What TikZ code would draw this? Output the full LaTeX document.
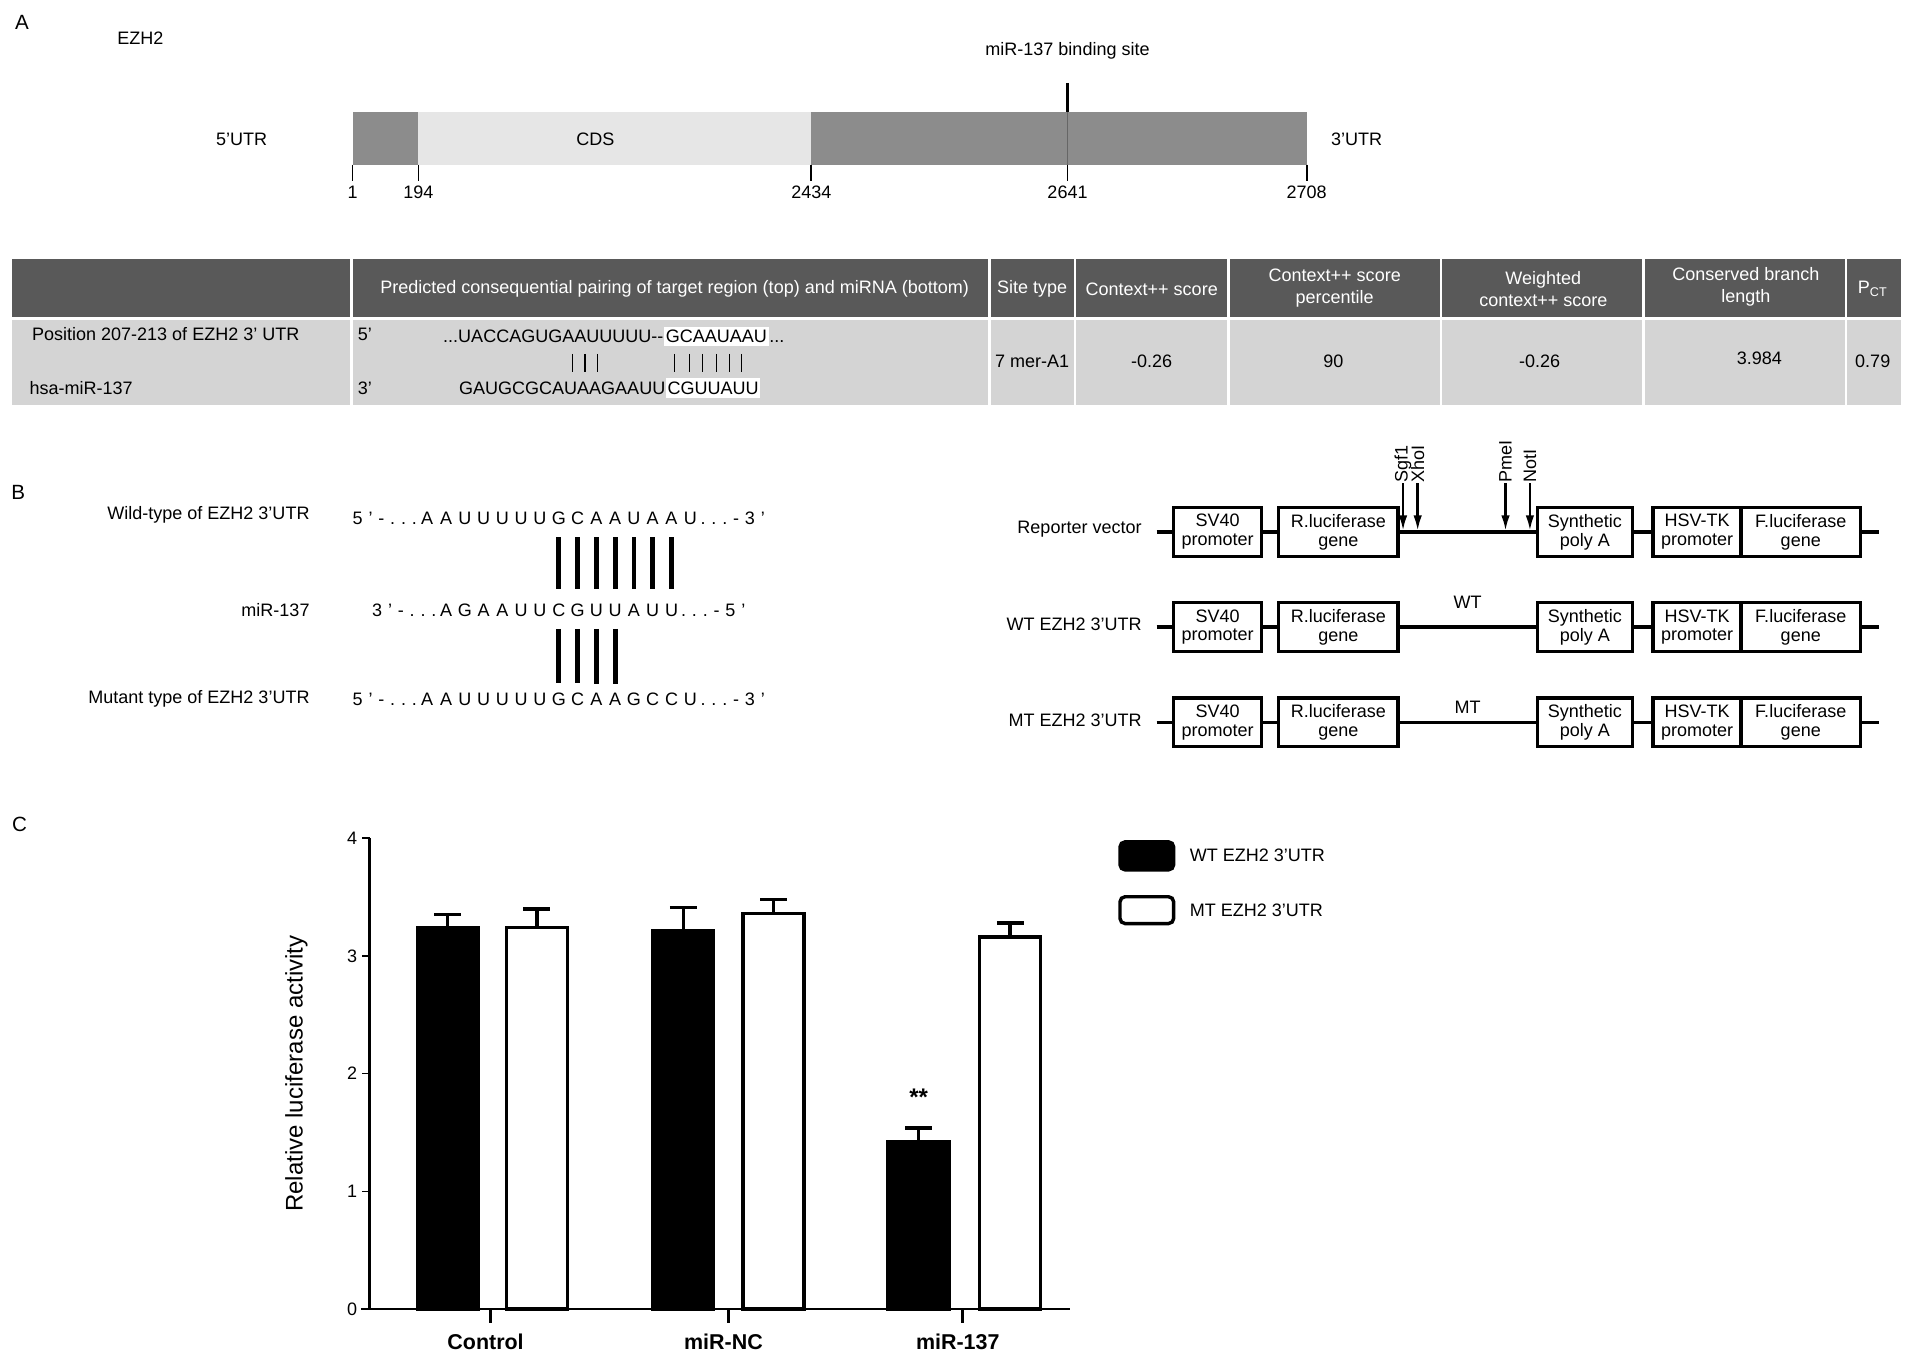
\documentclass[tikz,border=0pt]{standalone}
\usepackage{fontspec}
\setmainfont{Liberation Sans}
\usetikzlibrary{positioning,arrows.meta}
\definecolor{utrgray}{HTML}{8C8C8C}
\definecolor{cdsgray}{HTML}{E6E6E6}
\definecolor{headgray}{HTML}{595959}
\definecolor{rowgray}{HTML}{D4D4D4}
\newcommand\gp{\hspace{3.4pt}}
\tikzset{
  txt/.style={font=\fontsize{10.5}{12.5}\selectfont, inner sep=0pt},
  panel/.style={font=\fontsize{12}{14}\selectfont, inner sep=0pt},
  hcell/.style={txt, text=white, align=center},
  part/.style={draw, line width=2pt, fill=white, minimum height=1cm, inner sep=0pt,
    align=center, font=\fontsize{10.5}{11}\selectfont},
  pair/.style={line width=2.8pt},
  axisline/.style={line width=1.6pt},
  barbox/.style={line width=2pt},
  catlab/.style={font=\bfseries\fontsize{12.5}{14}\selectfont, inner sep=0pt},
}
\begin{document}
\begin{tikzpicture}[x=0.025cm, y=-0.025cm]
\useasboundingbox (0,0) rectangle (1568,1118);
% ---------- A: gene map
\node[panel] (pA) at (18,18) {A};
\node[txt] (gene) at (115,31) {EZH2};
\fill[utrgray] (289,92) rectangle (343,135);
\fill[cdsgray] (343,92) rectangle (665,135);
\fill[utrgray] (665,92) rectangle (1071,135);
\draw[gray!120, line width=1pt] (875,92) -- (875,135);
\draw[line width=1.5pt] (875,68) -- (875,92);
\node[txt] (site) at (875,42) {miR-137 binding site};
\node[txt] (cds) at (488,114) {CDS};
\node[txt] (utr5) at (198,114) {5'UTR};
\node[txt] (utr3) at (1112,114) {3'UTR};
\foreach \x/\l in {289/1,343/194,665/2434,875/2641,1071/2708} {
  \draw[line width=1pt] (\x,135) -- (\x,148);
  \node[txt] (tick\l) at (\x,158) {\l};
}
% ---------- A: table
\foreach \a/\b in {10/287,289/810,812/880,882/1006,1008/1180,1182/1346,1348/1512,1514/1558} {
  \fill[headgray] (\a,212) rectangle (\b,260);
  \fill[rowgray] (\a,262) rectangle (\b,332);
}
\node[hcell] (h2) at (553,237) {Predicted consequential pairing of target region (top) and miRNA (bottom)};
\node[hcell] (h3) at (846,237) {Site type};
\node[hcell] (h4) at (944,237) {Context++ score};
\node[hcell] (h5) at (1094,236) {Context++ score\\percentile};
\node[hcell] (h6) at (1265,237) {Weighted\\context++ score};
\node[hcell] (h7) at (1431,235) {Conserved branch\\length};
\node[hcell] (h8) at (1535,237) {P\textsubscript{CT}};
\node[txt, anchor=base west] (pos) at (26,279) {Position 207-213 of EZH2 3' UTR};
\node[txt, anchor=base west] (hsa) at (24,323) {hsa-miR-137};
\node[txt, anchor=base west] (p5) at (293,279) {5'};
\node[txt, anchor=base west] (p3) at (293,323) {3'};
\node[txt, anchor=base west] (tseq1) at (363,281) {...UACCAGUGAAUUUUU-{}-};
\node[txt, anchor=base west, fill=white, inner xsep=1pt, inner ysep=2pt] (tseq2) at (tseq1.base east) {GCAAUAAU};
\node[txt, anchor=base west] (tseq3) at (tseq2.base east) {...};
\node[txt, anchor=base west] (mseq1) at (376,323) {GAUGCGCAUAAGAAUU};
\node[txt, anchor=base west, fill=white, inner xsep=1pt, inner ysep=2pt] (mseq2) at (mseq1.base east) {CGUUAUU};
\foreach \x in {469,479.5,490,553,565,576,587,598,608}
  \draw[line width=0.7pt] (\x,290) -- (\x,305);
\node[txt] (d3) at (846,296) {7 mer-A1};
\node[txt] (d4) at (944,296) {-0.26};
\node[txt] (d5) at (1093,296) {90};
\node[txt] (d6) at (1262,296) {-0.26};
\node[txt] (d7) at (1442,294) {3.984};
\node[txt] (d8) at (1535,296) {0.79};
% ---------- B: pairing
\node[panel] (pB) at (15,404) {B};
\node[txt, anchor=east] (wlab) at (254,422) {Wild-type of EZH2 3'UTR};
\node[txt, anchor=east] (rlab) at (254,500) {miR-137};
\node[txt, anchor=east] (mlab) at (254,573) {Mutant type of EZH2 3'UTR};
\node[txt, anchor=base east] (wpre) at (342,430) {5\gp'\gp-\gp.\gp.\gp.\gp};
\foreach \c [count=\i] in {A,A,U,U,U,U,U,G,C,A,A,U,A,A,U}
  \node[txt, anchor=base] (w\i) at (334.8+15.4*\i,430) {\c};
\node[txt, anchor=base west] (wsuf) at (574,430) {.\gp.\gp.\gp-\gp3\gp'};
\node[txt, anchor=base east] (rpre) at (358,505) {3\gp'\gp-\gp.\gp.\gp.\gp};
\foreach \c [count=\i] in {A,G,A,A,U,U,C,G,U,U,A,U,U}
  \node[txt, anchor=base] (r\i) at (350.2+15.4*\i,505) {\c};
\node[txt, anchor=base west] (rsuf) at (558,505) {.\gp.\gp.\gp-\gp5\gp'};
\node[txt, anchor=base east] (mpre) at (342,578) {5\gp'\gp-\gp.\gp.\gp.\gp};
\foreach \c [count=\i] in {A,A,U,U,U,U,U,G,C,A,A,G,C,C,U}
  \node[txt, anchor=base] (m\i) at (334.8+15.4*\i,578) {\c};
\node[txt, anchor=base west] (msuf) at (574,578) {.\gp.\gp.\gp-\gp3\gp'};
\foreach \i [evaluate=\i as \j using int(\i+1)] in {7,...,13}
  \draw[pair, shorten <=0.25cm, shorten >=0.3cm] (w\j.south) -- (r\i.north);
\foreach \i [evaluate=\i as \j using int(\i+1)] in {7,...,10}
  \draw[pair, shorten <=0.25cm, shorten >=0.18cm] (r\i.south) -- (m\j.north);
% ---------- B: constructs
\foreach \rw/\y/\lab in {rv/436/Reporter vector,wt/514/WT EZH2 3'UTR,mt/592/MT EZH2 3'UTR} {
  \node[txt, anchor=east] (\rw-lab) at (936,\y-2) {\lab};
  \coordinate (\rw-l) at (948,\y);
  \coordinate (\rw-r) at (1540,\y);
  \node[part, minimum width=1.8cm] (\rw-sv) at (998,\y) {SV40\\promoter};
  \node[part, minimum width=2.45cm] (\rw-rl) at (1097,\y) {R.luciferase\\gene};
  \node[part, minimum width=1.95cm] (\rw-pa) at (1299,\y) {Synthetic\\poly A};
  \node[part, minimum width=1.8cm] (\rw-hs) at (1391,\y) {HSV-TK\\promoter};
  \node[part, minimum width=2.45cm] (\rw-fl) at (1476,\y) {F.luciferase\\gene};
  \draw[line width=2pt] (\rw-l) -- (\rw-sv.west) (\rw-sv.east) -- (\rw-rl.west)
    (\rw-rl.east) -- (\rw-pa.west) (\rw-pa.east) -- (\rw-hs.west) (\rw-fl.east) -- (\rw-r);
}
\node[txt] (wtins) at (1203,494) {WT};
\node[txt] (mtins) at (1203,580) {MT};
\foreach \x/\e [count=\i] in {1150/Sgf1,1162/XhoI,1234/PmeI,1254/NotI} {
  \node[txt, rotate=90, anchor=west] (enz\i) at (\x,396) {\e};
  \coordinate (tip\i) at (\x,435);
  \draw[line width=1.4pt, -{Latex[length=9pt,width=5pt]}] (enz\i.west) -- (tip\i);
}
% ---------- C: bar chart
\node[panel] (pC) at (16,676) {C};
\draw[axisline] (303,1073) -- (303,687);
\draw[axisline] (296,1073) -- (877,1073);
\foreach \v in {0,...,4} {
  \draw[line width=1pt] (303,1073-96.5*\v) -- (297,1073-96.5*\v);
  \node[txt, anchor=east] (yt\v) at (293,1073-96.5*\v) {\v};
}
\foreach \x/\g [count=\i] in {402/Control,597/miR-NC,789/miR-137} {
  \draw[line width=1.4pt] (\x,1073) -- (\x,1084);
  \node[catlab] (cat\i) at (\x-4,1100) {\g};
}
\foreach \a/\v/\e/\f in {342/3.24/0.11/black,415/3.24/0.16/white,535/3.21/0.20/black,
    609/3.36/0.12/white,728/1.42/0.12/black,803/3.16/0.12/white} {
  \draw[barbox] (\a+25,1073-96.5*\v) -- (\a+25,1073-96.5*\v-96.5*\e);
  \draw[barbox] (\a+14,1073-96.5*\v-96.5*\e) -- (\a+36,1073-96.5*\v-96.5*\e);
  \draw[barbox, fill=\f] (\a,1073) rectangle (\a+50,1073-96.5*\v);
}
\node[font=\bfseries\fontsize{14}{16}\selectfont, inner sep=0pt] (sig) at (753,899) {**};
\node[font=\fontsize{14}{16}\selectfont, rotate=90, inner sep=0pt] (ylab) at (243,880) {Relative luciferase activity};
\draw[barbox, fill=black, rounded corners=3pt] (918,690) rectangle (962,713);
\node[txt, anchor=west] (leg1) at (975,701) {WT EZH2 3'UTR};
\draw[barbox, fill=white, rounded corners=3pt] (918,735) rectangle (962,757);
\node[txt, anchor=west] (leg2) at (975,746) {MT EZH2 3'UTR};
\end{tikzpicture}
\end{document}
